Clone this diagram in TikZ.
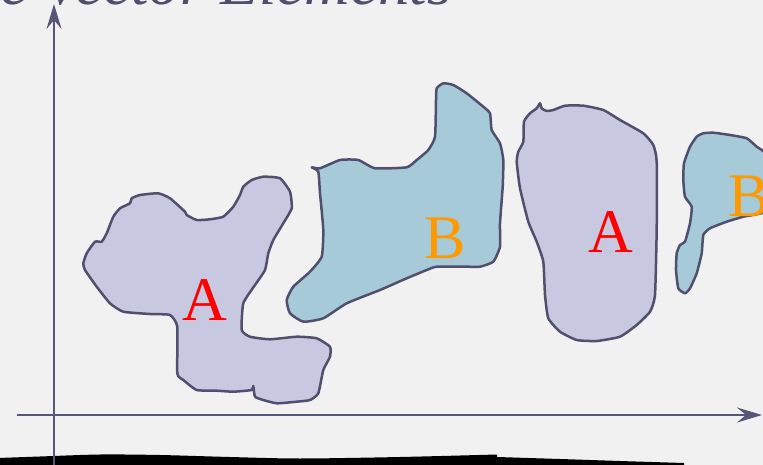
\documentclass[tikz,border=0pt]{standalone}
\usepackage{fontspec}
\setmainfont{Liberation Serif}
\usetikzlibrary{arrows.meta}

\definecolor{paper}{RGB}{241,241,242}
\definecolor{outline}{RGB}{80,80,110}
\definecolor{axiscol}{RGB}{86,86,120}
\definecolor{lilac}{RGB}{200,200,224}
\definecolor{seablue}{RGB}{166,202,216}
\definecolor{labelA}{RGB}{255,0,0}
\definecolor{labelB}{RGB}{255,153,0}
\definecolor{titlecol}{RGB}{78,78,110}

\tikzset{
  regionA/.style={draw=outline, fill=lilac, line width=2.5pt, line join=round},
  regionB/.style={draw=outline, fill=seablue, line width=2.5pt, line join=round},
  axisline/.style={draw=axiscol, line width=2.4pt,
    -{Stealth[length=25pt, width=15pt, inset=9pt]}},
  lblA/.style={text=labelA, font=\fontsize{62}{62}\selectfont, inner sep=0pt, anchor=base},
  lblB/.style={text=labelB, font=\fontsize{62}{62}\selectfont, inner sep=0pt, anchor=base},
}

\begin{document}
\begin{tikzpicture}[x=1pt, y=-1pt]
  \useasboundingbox (0,0) rectangle (763,465);
  \clip (0,0) rectangle (763,465);
  \fill[paper] (0,0) rectangle (763,465);

  % heading, cut by the upper edge
  \node[anchor=base west, inner sep=0pt, text=titlecol,
        font=\itshape\fontsize{63}{63}\selectfont] (title) at (0,4.5) {e Vector Elements};

  % brush stroke along the lower edge
  \fill[black] plot[smooth, tension=0.5] coordinates {
      (-2,458) (40,456.5) (100,454.5) (160,455) (230,457) (300,458.5)
      (400,457) (497,454.5)}
    -- (497,457)
    -- plot[smooth, tension=0.5] coordinates {(497,457) (560,459) (620,461) (668,462.5) (684,463)}
    -- (684,470) -- (-2,470) -- cycle;

  % left region A
  \draw[regionA] plot[smooth cycle, tension=0.3] coordinates {
    (83.3,263.3) (86.7,253.3) (95,241.7) (101.7,241.7) (106.7,233.3)
    (113.3,216.7) (120,208.3) (130,203.3) (131.7,198.3) (140,195)
    (158.3,193.3) (170,198.3) (185,211.7) (186.7,215) (196.7,220)
    (210,219.3) (223.3,216.7) (233.3,206.7) (240,195) (243.3,186.7)
    (251.7,180) (263.3,176.7) (280,178.3) (290,191.7) (291.7,208.3)
    (283.3,223.3) (273.3,240) (268.3,253.3) (265,270) (255,285)
    (243.3,303.3) (241.7,330) (250,336.7) (270,339.3) (296.7,336.7)
    (316.7,338.3) (330,346.7) (330,356.7) (323.3,370) (318.3,393.3)
    (310,400) (296.7,401.7) (276.7,403.3) (263.3,400) (255,396.7)
    (253.3,386) (251.7,390) (233.3,391.7) (216.7,390.7) (196.7,390)
    (183.3,380) (177.3,373.3) (177.3,326.7) (170,315) (150,314)
    (123.3,311.7) (110,303.3) (96.7,286.7) (85,270)};

  % left region B
  \draw[regionB] plot[smooth cycle, tension=0.3] coordinates {
    (311.7,167.3) (320,168.3) (340,160) (358.3,160) (375,168.3)
    (406.7,167.3) (416.7,160) (428.3,150) (435,136.7) (436,100)
    (436.7,88.3) (443.3,83.3) (453.3,85) (466.7,93.3) (483.3,106.7)
    (490,113.3) (491.7,130) (500,143.3) (503.3,160) (502.7,186.7)
    (500,223.3) (500,246.7) (493.3,261.7) (480,266.7) (466.7,266.7)
    (436.7,266.7) (426.7,270) (406.7,278.3) (380,290) (346.7,303.3)
    (323.3,318.3) (303.3,321.7) (290,313.3) (286.7,300) (293.3,286.7)
    (310,271.7) (321.7,256.7) (323.3,230) (320,193.3) (318.3,171.7)};

  % right region A
  \draw[regionA] plot[smooth cycle, tension=0.3] coordinates {
    (540,103.3) (541.7,108.3) (546.7,111) (553.3,110) (565,105.7)
    (583.3,105.7) (603.3,110) (620,120) (643.3,133.3) (653.3,145)
    (656.7,161.7) (656.7,228.3) (655,295) (650,311.7) (636.7,325)
    (620,336.7) (596.7,341) (576.7,340) (560,331.7) (548.3,318.3)
    (545,295) (543.3,261.7) (536.7,241.7) (528.3,221.7) (520,188.3)
    (516.7,161.7) (518.3,151.7) (523.3,141.7) (524,121.7) (530,113.3)
    (536.7,108.3)};

  % right region B, running past the edge
  \draw[regionB] plot[smooth cycle, tension=0.3] coordinates {
    (703.3,133.3) (713.3,132.7) (730,135) (746.7,138.3) (756.7,146.7)
    (766,154) (772,180) (766,211) (743.3,216.7) (726.7,221.7)
    (710,228.3) (703.3,235) (701.7,253.3) (696.7,273.3) (690,288.3)
    (685,293.3) (678.3,288.3) (676,270) (676.7,253.3) (680,245)
    (685,241.7) (690,223.3) (691.7,206.7) (685,196.7) (683.3,180)
    (684,163.3) (690,146.7) (696.7,136.7)};

  % region labels
  \node[lblA] (a1) at (205,320) {A};
  \node[lblB] (b1) at (445,258.5) {B};
  \node[lblA] (a2) at (611,252) {A};
  \node[lblB] (b2) at (749,216.7) {B};

  % axes
  \coordinate (ybot) at (54,470);
  \coordinate (ytop) at (54,4);
  \coordinate (xleft) at (17,415);
  \coordinate (xright) at (762,415);
  \draw[axisline] (ybot) -- (ytop);
  \draw[axisline] (xleft) -- (xright);
\end{tikzpicture}
\end{document}
